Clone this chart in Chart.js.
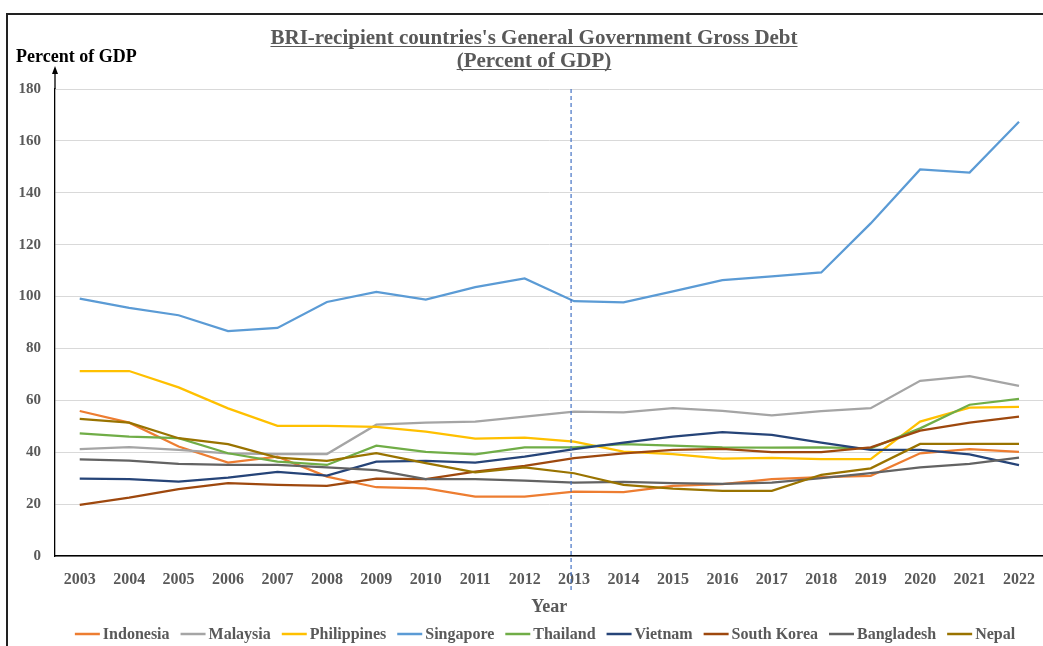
<!DOCTYPE html>
<html>
<head>
<meta charset="utf-8">
<script src="https://cdn.jsdelivr.net/npm/chart.js@4/dist/chart.umd.min.js"></script>
<style>
  html, body { margin: 0; padding: 0; background: #fff; overflow: hidden; }
  #wrap { width: 1049px; height: 646px; }
</style>
</head>
<body>
<div id="wrap"><canvas id="debtChart" width="1049" height="646"></canvas></div>
<script>
// Du lieu doc tu hinh (Percent of GDP)
const years = ["2003", "2004", "2005", "2006", "2007", "2008", "2009", "2010", "2011", "2012",
  "2013", "2014", "2015", "2016", "2017", "2018", "2019", "2020", "2021", "2022"];
const yTicks = [0, 20, 40, 60, 80, 100, 120, 140, 160, 180];
const markerYear = "2013";

const indonesia = [55.9, 51.4, 42.2, 36.0, 38.3, 30.6, 26.5, 26.1, 22.9, 22.9, 24.8, 24.6, 27.0, 27.7, 29.6, 30.4, 30.9, 39.6, 41.2, 40.1];
const malaysia = [41.2, 42.0, 40.9, 39.6, 39.3, 39.3, 50.6, 51.4, 51.8, 53.7, 55.6, 55.4, 57.0, 55.9, 54.2, 55.8, 57.0, 67.5, 69.3, 65.6];
const philippines = [71.3, 71.3, 65.0, 56.9, 50.2, 50.2, 49.8, 47.9, 45.2, 45.6, 44.1, 40.2, 39.3, 37.5, 37.8, 37.3, 37.3, 51.8, 57.2, 57.5];
const singapore = [99.2, 95.6, 92.8, 86.7, 87.9, 97.9, 101.8, 98.8, 103.6, 107.0, 98.2, 97.8, 102.0, 106.3, 107.8, 109.3, 128.2, 149.0, 147.8, 167.4];
const thailand = [47.3, 46.0, 45.4, 39.6, 36.4, 35.1, 42.5, 40.1, 39.2, 41.9, 41.9, 43.1, 42.5, 41.9, 41.8, 41.9, 41.5, 49.2, 58.3, 60.6];
const vietnam = [29.8, 29.6, 28.7, 30.2, 32.4, 31.0, 36.4, 36.7, 36.0, 38.3, 41.2, 43.7, 46.0, 47.7, 46.7, 43.7, 40.9, 40.9, 39.2, 35.0];
const southKorea = [19.7, 22.5, 25.8, 28.1, 27.4, 27.0, 29.8, 29.6, 32.5, 34.7, 37.7, 39.6, 40.9, 41.3, 40.0, 40.0, 41.9, 48.3, 51.4, 53.7];
const bangladesh = [37.2, 36.8, 35.5, 35.1, 35.1, 34.2, 33.1, 29.6, 29.6, 29.1, 28.3, 28.6, 28.1, 27.8, 28.3, 30.0, 31.9, 34.2, 35.5, 37.9];
const nepal = [52.9, 51.4, 45.4, 43.1, 37.9, 36.7, 39.6, 35.8, 32.2, 34.2, 31.9, 27.4, 26.0, 25.1, 25.1, 31.3, 33.8, 43.2, 43.2, 43.2];

const seriesNames = ["Indonesia", "Malaysia", "Philippines", "Singapore", "Thailand", "Vietnam", "South Korea", "Bangladesh", "Nepal"];
const seriesData = [indonesia, malaysia, philippines, singapore, thailand, vietnam, southKorea, bangladesh, nepal];
const seriesColors = ["#ED7D31", "#A5A5A5", "#FFC000", "#5B9BD5", "#70AD47", "#264478", "#9E480E", "#636363", "#997300"];

const FONT = "'Liberation Serif', 'Times New Roman', serif";
const GRAY_TEXT = "#595959";

// ve khung, tieu de, mui ten truc Y, duong dut 2013 va chu thich
const decorPlugin = {
  id: "decor",
  afterDraw(chart) {
    const ctx = chart.ctx;
    const area = chart.chartArea;
    const xScale = chart.scales.x;
    ctx.save();

    // khung ngoai
    ctx.strokeStyle = "#222";
    ctx.lineWidth = 2;
    ctx.beginPath();
    ctx.moveTo(1049, 14);
    ctx.lineTo(7, 14);
    ctx.lineTo(7, 646);
    ctx.stroke();

    // tieu de gach chan
    ctx.fillStyle = GRAY_TEXT;
    ctx.strokeStyle = GRAY_TEXT;
    ctx.lineWidth = 1;
    ctx.font = "bold 21px " + FONT;
    ctx.textAlign = "center";
    ctx.textBaseline = "alphabetic";
    const titleLines = [
      { text: "BRI-recipient countries's General Government Gross Debt", y: 44 },
      { text: "(Percent of GDP)", y: 67 },
    ];
    titleLines.forEach((t) => {
      ctx.fillText(t.text, 534, t.y);
      const w = ctx.measureText(t.text).width;
      ctx.beginPath();
      ctx.moveTo(534 - w / 2, t.y + 2.5);
      ctx.lineTo(534 + w / 2, t.y + 2.5);
      ctx.stroke();
    });

    // nhan truc Y
    ctx.fillStyle = "#000";
    ctx.font = "bold 18px " + FONT;
    ctx.textAlign = "left";
    ctx.fillText("Percent of GDP", 16, 62);

    // mui ten truc Y
    ctx.strokeStyle = "#000";
    ctx.lineWidth = 1.3;
    ctx.beginPath();
    ctx.moveTo(area.left, area.top);
    ctx.lineTo(area.left, 72);
    ctx.stroke();
    ctx.fillStyle = "#000";
    ctx.beginPath();
    ctx.moveTo(area.left, 66);
    ctx.lineTo(area.left - 3, 74);
    ctx.lineTo(area.left + 3, 74);
    ctx.closePath();
    ctx.fill();

    // duong dut nam 2013
    const xm = xScale.getPixelForValue(years.indexOf(markerYear)) - 3;
    ctx.strokeStyle = "#4472C4";
    ctx.lineWidth = 1.2;
    ctx.setLineDash([4, 3]);
    ctx.beginPath();
    ctx.moveTo(xm, area.top);
    ctx.lineTo(xm, area.bottom + 36);
    ctx.stroke();
    ctx.setLineDash([]);

    // chu thich
    ctx.font = "bold 16px " + FONT;
    ctx.textBaseline = "middle";
    const swatch = 25, gapText = 3, gapItem = 11;
    let total = 0;
    seriesNames.forEach((n) => {
      total += swatch + gapText + ctx.measureText(n).width + gapItem;
    });
    total -= gapItem;
    let x = 545 - total / 2;
    const ly = 634;
    seriesNames.forEach((n, i) => {
      ctx.strokeStyle = seriesColors[i];
      ctx.lineWidth = 2.5;
      ctx.beginPath();
      ctx.moveTo(x, ly);
      ctx.lineTo(x + swatch, ly);
      ctx.stroke();
      x += swatch + gapText;
      ctx.fillStyle = GRAY_TEXT;
      ctx.textAlign = "left";
      ctx.fillText(n, x, ly + 1);
      x += ctx.measureText(n).width + gapItem;
    });

    ctx.restore();
  },
};

const datasets = seriesNames.map((name, i) => ({
  label: name,
  data: seriesData[i],
  borderColor: seriesColors[i],
  backgroundColor: seriesColors[i],
  borderWidth: 2.25,
  pointRadius: 0,
  pointHoverRadius: 0,
  tension: 0,
  fill: false,
  order: seriesNames.length - i,
}));

new Chart(document.getElementById("debtChart"), {
  type: "line",
  data: { labels: years, datasets: datasets },
  options: {
    responsive: false,
    animation: false,
    layout: { padding: { top: 89, left: 0, right: 0, bottom: 0 } },
    plugins: {
      legend: { display: false },
      title: { display: false },
      tooltip: { enabled: false },
    },
    scales: {
      x: {
        offset: true,
        grid: { display: false, drawTicks: false },
        border: { display: true, color: "#000", width: 1.5 },
        ticks: {
          color: GRAY_TEXT,
          padding: 14,
          maxRotation: 0,
          autoSkip: false,
          font: { family: FONT, size: 16, weight: "bold" },
        },
        title: {
          display: true,
          text: "Year",
          color: GRAY_TEXT,
          font: { family: FONT, size: 18, weight: "bold" },
          padding: { top: 8, bottom: 28 },
        },
        afterFit(scale) { scale.height = 90; },
      },
      y: {
        min: 0,
        max: 180,
        afterBuildTicks(scale) { scale.ticks = yTicks.map((v) => ({ value: v })); },
        grid: { color: "#D9D9D9", lineWidth: 1, drawTicks: false },
        border: { display: true, color: "#000", width: 1.3 },
        ticks: {
          color: GRAY_TEXT,
          padding: 14,
          font: { family: FONT, size: 15, weight: "bold" },
        },
        afterFit(scale) { scale.width = 55; },
      },
    },
  },
  plugins: [decorPlugin],
});
</script>
</body>
</html>
